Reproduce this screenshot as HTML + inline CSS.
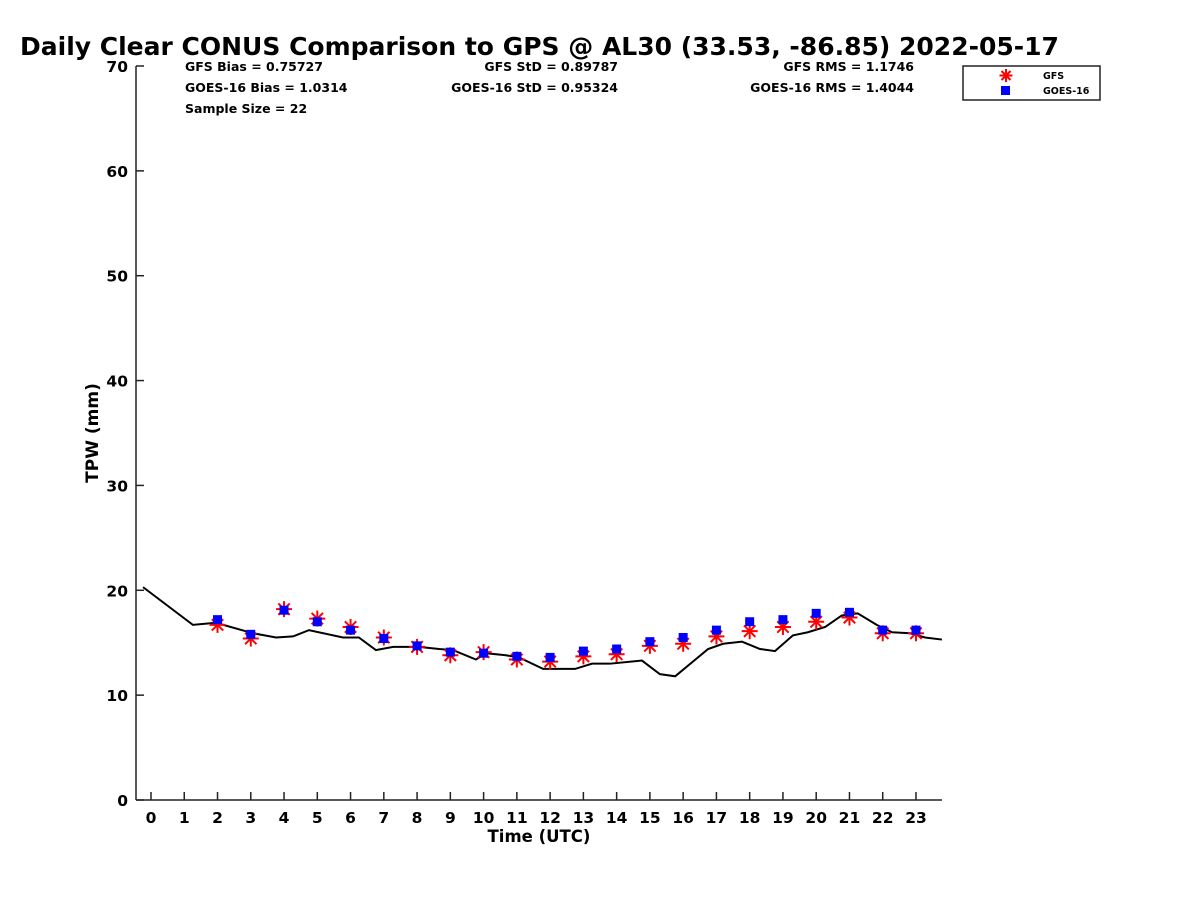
<!DOCTYPE html>
<html><head><meta charset="utf-8"><style>
body{margin:0;background:#fff;font-family:"DejaVu Sans","Liberation Sans",sans-serif;}
svg text{font-family:"DejaVu Sans","Liberation Sans",sans-serif;font-weight:bold;}
</style></head><body>
<svg id="chart" width="1200" height="900" xmlns="http://www.w3.org/2000/svg">
<text x="20" y="55" font-size="25">Daily Clear CONUS Comparison to GPS @ AL30 (33.53, -86.85) 2022-05-17</text>
<g font-size="12.5">
<text x="185" y="71">GFS Bias = 0.75727</text>
<text x="185" y="92">GOES-16 Bias = 1.0314</text>
<text x="185" y="113">Sample Size = 22</text>
<text x="618" y="71" text-anchor="end">GFS StD = 0.89787</text>
<text x="618" y="92" text-anchor="end">GOES-16 StD = 0.95324</text>
<text x="914" y="71" text-anchor="end">GFS RMS = 1.1746</text>
<text x="914" y="92" text-anchor="end">GOES-16 RMS = 1.4044</text>
</g>
<g id="axes"></g>
<g id="marks"></g>
<g>
<rect x="963" y="66" width="137" height="34" fill="#fff" stroke="#222" stroke-width="1.5"/>
<g stroke="#f00" stroke-width="2"><line x1="1006" y1="69" x2="1006" y2="82"/><line x1="999.5" y1="75.5" x2="1012.5" y2="75.5"/><line x1="1001.5" y1="71" x2="1010.5" y2="80"/><line x1="1010.5" y1="71" x2="1001.5" y2="80"/></g>
<rect x="1001" y="86" width="9" height="9" fill="#00f"/>
<text x="1043" y="79" font-size="9.5">GFS</text>
<text x="1043" y="94" font-size="9.5">GOES-16</text>
</g>
<text x="539" y="842" font-size="16.5" text-anchor="middle">Time (UTC)</text>
<text transform="translate(98,433) rotate(-90)" font-size="17" text-anchor="middle">TPW (mm)</text>
</svg>
<script>
const gpsHours=[-0.24,1.26,1.95,3.07,3.76,4.27,4.75,5.77,6.25,6.76,7.28,8.06,8.66,9.08,9.77,10.07,10.67,11.06,11.79,12.75,13.26,13.80,14.76,15.30,15.76,16.75,17.20,17.77,18.31,18.76,19.30,19.75,20.27,20.77,21.25,21.82,22.28,22.82,23.27,23.78];
const gpsValues=[20.3,16.7,16.9,15.9,15.5,15.6,16.2,15.5,15.5,14.3,14.6,14.6,14.4,14.3,13.4,14.0,13.8,13.6,12.5,12.5,13.0,13.0,13.3,12.0,11.8,14.4,14.9,15.1,14.4,14.2,15.7,16.0,16.5,17.6,17.8,16.7,16.0,15.9,15.5,15.3];
const obsHours=[2,3,4,5,6,7,8,9,10,11,12,13,14,15,16,17,18,19,20,21,22,23];
const gfsValues=[16.7,15.4,18.2,17.3,16.5,15.5,14.6,13.8,14.1,13.4,13.2,13.7,13.9,14.7,14.9,15.6,16.1,16.5,17.0,17.4,15.9,15.9];
const goesValues=[17.2,15.8,18.1,17.0,16.2,15.4,14.7,14.1,14.0,13.7,13.6,14.2,14.4,15.1,15.5,16.2,17.0,17.2,17.8,17.9,16.2,16.2];
const xTicks=[0,1,2,3,4,5,6,7,8,9,10,11,12,13,14,15,16,17,18,19,20,21,22,23];
const yTicks=[0,10,20,30,40,50,60,70];
const X0=136,X1=942,Y0=800,Y1=66;
const xs=h=>151+h*33.26;
const ys=v=>Y0-(v/70)*(Y0-Y1);
const NS="http://www.w3.org/2000/svg";
function mk(t,a,p){const e=document.createElementNS(NS,t);for(const k in a)e.setAttribute(k,a[k]);p.appendChild(e);return e;}
const ax=document.getElementById('axes'),mg=document.getElementById('marks');
let e=mk('line',{x1:X0,y1:Y1,x2:X0,y2:Y0,stroke:'#222','stroke-width':1.5},ax);


e=mk('line',{x1:X0,y1:Y0,x2:X1,y2:Y0,stroke:'#222','stroke-width':1.5},ax);


yTicks.forEach(v=>{const y=ys(v);mk('line',{x1:X0,y1:y,x2:X0+8,y2:y,stroke:'#222','stroke-width':1.5},ax);
const t=mk('text',{x:X0-8,y:y+6,'font-size':15.5,'text-anchor':'end'},ax);t.textContent=v;

});
xTicks.forEach(h=>{const x=xs(h);mk('line',{x1:x,y1:Y0,x2:x,y2:Y0-8,stroke:'#222','stroke-width':1.5},ax);
const t=mk('text',{x:x,y:823,'font-size':15.5,'text-anchor':'middle'},ax);t.textContent=h;

});
const pl=mk('polyline',{points:gpsHours.map((h,i)=>xs(h)+','+ys(gpsValues[i])).join(' '),fill:'none',stroke:'#000','stroke-width':2},mg);


obsHours.forEach((h,i)=>{const x=xs(h),y=ys(gfsValues[i]);
const g=mk('g',{stroke:'#f00','stroke-width':2},mg);


mk('line',{x1:x,y1:y-8,x2:x,y2:y+8},g);mk('line',{x1:x-8,y1:y,x2:x+8,y2:y},g);
mk('line',{x1:x-5.7,y1:y-5.7,x2:x+5.7,y2:y+5.7},g);mk('line',{x1:x+5.7,y1:y-5.7,x2:x-5.7,y2:y+5.7},g);});
obsHours.forEach((h,i)=>{const x=xs(h),y=ys(goesValues[i]);
const r=mk('rect',{x:x-4.5,y:y-4.5,width:9,height:9,fill:'#00f'},mg);

});
</script>
</body></html>
